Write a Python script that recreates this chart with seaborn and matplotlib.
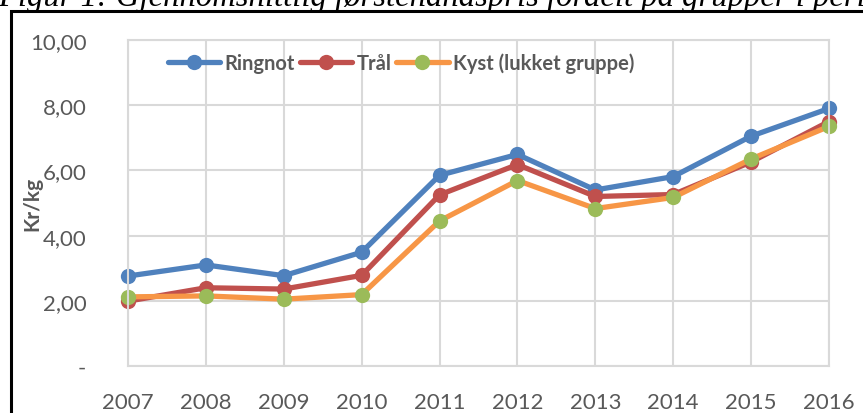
import matplotlib
matplotlib.use("Agg")
import matplotlib.pyplot as plt
import seaborn as sns
import pandas as pd
from matplotlib.patches import Rectangle
from matplotlib.lines import Line2D

years = [2007, 2008, 2009, 2010, 2011, 2012, 2013, 2014, 2015, 2016]
ringnot = [2.76, 3.10, 2.77, 3.49, 5.85, 6.49, 5.40, 5.81, 7.05, 7.90]
tral = [1.99, 2.40, 2.36, 2.78, 5.25, 6.18, 5.20, 5.26, 6.26, 7.50]
kyst = [2.12, 2.15, 2.05, 2.19, 4.45, 5.69, 4.83, 5.17, 6.35, 7.35]
series_names = ["Ringnot", "Tr\u00e5l", "Kyst (lukket gruppe)"]
ytick_vals = [0, 2, 4, 6, 8, 10]
ytick_labels = ["-", "2,00", "4,00", "6,00", "8,00", "10,00"]
title_text = "Figur 1: Gjennomsnittlig f\u00f8rstehåndspris fordelt p\u00e5 grupper i perioden"

line_colors = ["#4F81BD", "#C0504D", "#F79646"]
marker_colors = ["#4F81BD", "#C0504D", "#9BBB59"]

df = pd.DataFrame({
    "year": years * 3,
    "value": ringnot + tral + kyst,
    "series": [series_names[0]] * len(years) + [series_names[1]] * len(years) + [series_names[2]] * len(years),
})

sns.set_theme(style="white")
plt.rcParams["font.family"] = ["Lato", "DejaVu Sans"]

fig = plt.figure(figsize=(8.63, 4.14), dpi=100)
ax = fig.add_axes([128 / 863, 1 - 367 / 414, (829 - 128) / 863, (367 - 41) / 414])

sns.lineplot(data=df, x="year", y="value", hue="series", palette=dict(zip(series_names, line_colors)),
             marker="o", markersize=11, linewidth=3.8, markeredgewidth=0, ax=ax, legend=False)

for ln, mc in zip(ax.lines, marker_colors):
    ln.set_markerfacecolor(mc)
    ln.set_markeredgecolor(mc)
    ln.set_solid_capstyle("round")
    ln.set_clip_on(False)

ax.set_xlim(2007, 2016)
ax.set_ylim(0, 10)
ax.set_xticks(years)
ax.set_xticklabels([str(y) for y in years])
ax.set_yticks(ytick_vals)
ax.set_yticklabels(ytick_labels)
ax.grid(True, color="#D9D9D9", linewidth=1.5)
ax.set_axisbelow(True)
for s in ax.spines.values():
    s.set_color("#D9D9D9")
    s.set_linewidth(1.5)
ax.tick_params(axis="y", length=0, pad=30, labelsize=16, labelcolor="#595959")
ax.tick_params(axis="x", length=0, pad=19, labelsize=16, labelcolor="#595959")
ax.set_xlabel("")
ax.set_ylabel("Kr/kg", fontsize=15, fontweight="bold", color="#595959")
ax.yaxis.set_label_coords((42 - 128) / 701, 0.5)

handles = [Line2D([0], [0], color=lc, marker="o", markersize=11, markerfacecolor=mc, markeredgewidth=0,
                  linewidth=3.8, solid_capstyle="round") for lc, mc in zip(line_colors, marker_colors)]
leg = ax.legend(handles, series_names, ncol=3, loc="upper left", bbox_to_anchor=(28 / 701, 1.0),
                frameon=False, handlelength=2.6, handletextpad=0.2, columnspacing=0.25,
                prop={"family": "Lato", "weight": "bold", "size": 14.5}, borderaxespad=0.2)
for t in leg.get_texts():
    t.set_color("#595959")

fig.text(-2 / 863, 1 - 6 / 414, title_text, fontsize=23.5, family="Liberation Serif", style="italic",
         va="baseline", ha="left", color="black")

fig.patches.append(Rectangle((11 / 863, -0.1), 1.2, 1 - 12 / 414 + 0.1, transform=fig.transFigure,
                             fill=False, edgecolor="black", linewidth=2.2))

fig.savefig("out.png", dpi=100)
